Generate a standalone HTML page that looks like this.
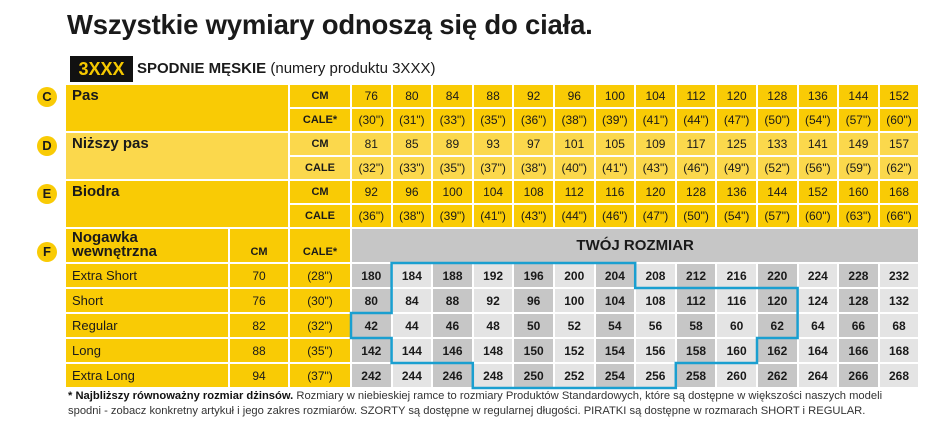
<!DOCTYPE html>
<html><head><meta charset="utf-8"><style>
*{margin:0;padding:0;box-sizing:border-box}
body{width:946px;height:430px;background:#fff;font-family:"Liberation Sans",sans-serif;color:#1a1a1a;position:relative;overflow:hidden}
.t{position:absolute;left:67px;top:9px;font-size:27.5px;font-weight:bold;letter-spacing:-0.2px}
.box{position:absolute;left:70px;top:56px;width:63px;height:26px;background:#111;color:#f5c800;font-weight:bold;font-size:18px;text-align:center;line-height:26px}
.sub{position:absolute;left:137px;top:58px;font-size:15px;line-height:22px}
.g{position:absolute;left:66px;top:85px;display:grid;grid-template-columns:162px 58px 60px repeat(14,38.6px);grid-template-rows:22px 22px 22px 22px 22px 22px 33px 23px 23px 23px 23px 23px;gap:2px}
.g div{display:flex;align-items:center;justify-content:center;font-size:12px;background:#f9cb05}
.g .l{justify-content:flex-start;align-items:flex-start;padding-left:6px;font-weight:bold;font-size:15px;padding-top:2px}
.g .u{font-weight:bold;font-size:11px}
.g .lt{background:#fbd84c}
.g .rl{justify-content:flex-start;padding-left:6px;font-size:13px}
.g .d{background:#c6c6c6;font-weight:bold;font-size:12px}
.g .e{background:#e4e4e4;font-weight:bold;font-size:12px}
.g .h{background:#c6c6c6;font-weight:bold;font-size:15px}
.c{position:absolute;left:37px;width:20px;height:20px;border-radius:50%;background:#f9cb05;font-weight:bold;font-size:13px;text-align:center;line-height:20px}
.f{position:absolute;left:68px;top:389px;font-size:11.2px;line-height:15px;color:#333}
</style></head><body>
<div class="t">Wszystkie wymiary odnoszą się do ciała.</div>
<div class="box">3XXX</div>
<div class="sub"><b>SPODNIE MĘSKIE</b> (numery produktu 3XXX)</div>
<div class="c" style="top:87px">C</div>
<div class="c" style="top:136px">D</div>
<div class="c" style="top:184px">E</div>
<div class="c" style="top:242px">F</div>
<div class="g">
<div class="l" style="grid-column:1/3;grid-row:1/3">Pas</div>
<div class="u">CM</div><div>76</div><div>80</div><div>84</div><div>88</div><div>92</div><div>96</div><div>100</div><div>104</div><div>112</div><div>120</div><div>128</div><div>136</div><div>144</div><div>152</div>
<div class="u">CALE*</div><div>(30")</div><div>(31")</div><div>(33")</div><div>(35")</div><div>(36")</div><div>(38")</div><div>(39")</div><div>(41")</div><div>(44")</div><div>(47")</div><div>(50")</div><div>(54")</div><div>(57")</div><div>(60")</div>
<div class="l lt" style="grid-column:1/3;grid-row:3/5">Niższy pas</div>
<div class="u lt">CM</div><div class="lt">81</div><div class="lt">85</div><div class="lt">89</div><div class="lt">93</div><div class="lt">97</div><div class="lt">101</div><div class="lt">105</div><div class="lt">109</div><div class="lt">117</div><div class="lt">125</div><div class="lt">133</div><div class="lt">141</div><div class="lt">149</div><div class="lt">157</div>
<div class="u lt">CALE</div><div class="lt">(32")</div><div class="lt">(33")</div><div class="lt">(35")</div><div class="lt">(37")</div><div class="lt">(38")</div><div class="lt">(40")</div><div class="lt">(41")</div><div class="lt">(43")</div><div class="lt">(46")</div><div class="lt">(49")</div><div class="lt">(52")</div><div class="lt">(56")</div><div class="lt">(59")</div><div class="lt">(62")</div>
<div class="l" style="grid-column:1/3;grid-row:5/7">Biodra</div>
<div class="u">CM</div><div>92</div><div>96</div><div>100</div><div>104</div><div>108</div><div>112</div><div>116</div><div>120</div><div>128</div><div>136</div><div>144</div><div>152</div><div>160</div><div>168</div>
<div class="u">CALE</div><div>(36")</div><div>(38")</div><div>(39")</div><div>(41")</div><div>(43")</div><div>(44")</div><div>(46")</div><div>(47")</div><div>(50")</div><div>(54")</div><div>(57")</div><div>(60")</div><div>(63")</div><div>(66")</div>
<div class="l" style="line-height:14px;padding-top:2px">Nogawka<br>wewnętrzna</div>
<div class="u" style="align-items:flex-end;padding-bottom:4px">CM</div>
<div class="u" style="align-items:flex-end;padding-bottom:4px">CALE*</div>
<div class="h" style="grid-column:4/18">TWÓJ ROZMIAR</div>
<div class="rl">Extra Short</div><div>70</div><div>(28")</div><div class="d">180</div><div class="e">184</div><div class="d">188</div><div class="e">192</div><div class="d">196</div><div class="e">200</div><div class="d">204</div><div class="e">208</div><div class="d">212</div><div class="e">216</div><div class="d">220</div><div class="e">224</div><div class="d">228</div><div class="e">232</div>
<div class="rl">Short</div><div>76</div><div>(30")</div><div class="d">80</div><div class="e">84</div><div class="d">88</div><div class="e">92</div><div class="d">96</div><div class="e">100</div><div class="d">104</div><div class="e">108</div><div class="d">112</div><div class="e">116</div><div class="d">120</div><div class="e">124</div><div class="d">128</div><div class="e">132</div>
<div class="rl">Regular</div><div>82</div><div>(32")</div><div class="d">42</div><div class="e">44</div><div class="d">46</div><div class="e">48</div><div class="d">50</div><div class="e">52</div><div class="d">54</div><div class="e">56</div><div class="d">58</div><div class="e">60</div><div class="d">62</div><div class="e">64</div><div class="d">66</div><div class="e">68</div>
<div class="rl">Long</div><div>88</div><div>(35")</div><div class="d">142</div><div class="e">144</div><div class="d">146</div><div class="e">148</div><div class="d">150</div><div class="e">152</div><div class="d">154</div><div class="e">156</div><div class="d">158</div><div class="e">160</div><div class="d">162</div><div class="e">164</div><div class="d">166</div><div class="e">168</div>
<div class="rl">Extra Long</div><div>94</div><div>(37")</div><div class="d">242</div><div class="e">244</div><div class="d">246</div><div class="e">248</div><div class="d">250</div><div class="e">252</div><div class="d">254</div><div class="e">256</div><div class="d">258</div><div class="e">260</div><div class="d">262</div><div class="e">264</div><div class="d">266</div><div class="e">268</div>
</div>
<svg style="position:absolute;left:0;top:0" width="946" height="430"><path d="M391.6 263H635.2V288H797.6V338H757V363H675.8V388H472.8V363H391.6V338H351V313H391.6Z" fill="none" stroke="#1a9fd0" stroke-width="2.5"/></svg>
<div class="f"><b style="color:#111">* Najbliższy równoważny rozmiar dżinsów.</b> Rozmiary w niebieskiej ramce to rozmiary Produktów Standardowych, które są dostępne w większości naszych modeli<br>spodni - zobacz konkretny artykuł i jego zakres rozmiarów. SZORTY są dostępne w regularnej długości. PIRATKI są dostępne w rozmarach SHORT i REGULAR.</div>
</body></html>
